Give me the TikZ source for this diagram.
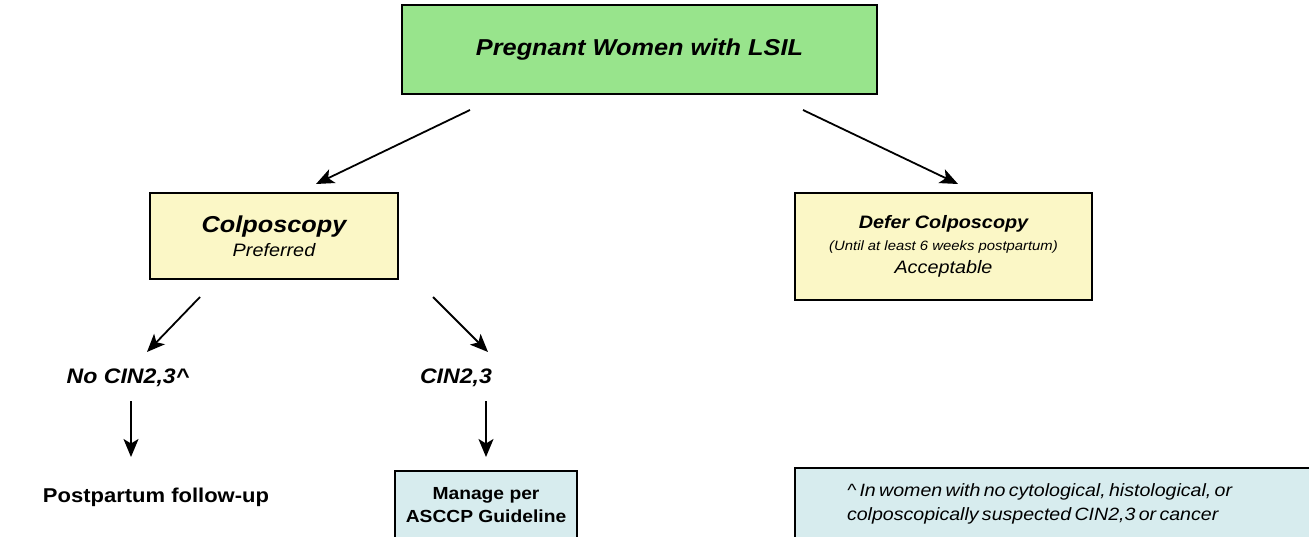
\documentclass[tikz,border=0pt]{standalone}
\usepackage{fontspec}
\setmainfont{Liberation Sans}[FakeStretch=1.1]
\usetikzlibrary{arrows.meta}
\definecolor{boxgreen}{HTML}{98E48C}
\definecolor{boxyellow}{HTML}{FBF7C6}
\definecolor{boxblue}{HTML}{D7ECEE}
\newcommand{\fs}[1]{\fontsize{#1}{#1}\selectfont}
\tikzset{
  box/.style={draw=black, line width=1.3pt, inner sep=0pt, align=center},
  lbl/.style={inner sep=0pt, align=center},
  arr/.style={line width=1.8pt, -{Stealth[length=18pt,width=15pt,inset=4.5pt]}},
}
\begin{document}
\begin{tikzpicture}[x=1pt,y=-1pt]
\clip (0,0) rectangle (1309,537);
\useasboundingbox (0,0) rectangle (1309,537);
\fill[white] (0,0) rectangle (1309,537);
% boxes
\node[box, fill=boxgreen, minimum width=475pt, minimum height=89pt] (top) at (639.5,49.5)
  {\fs{23}\bfseries\itshape Pregnant Women with LSIL};
\node[box, fill=boxyellow, minimum width=248pt, minimum height=86pt] (colpo) at (274,236)
  {{\fs{23}\bfseries\itshape Colposcopy}\\[5pt]{\fs{18}\itshape Preferred}};
\node[box, fill=boxyellow, minimum width=297pt, minimum height=107pt] (defer) at (943.5,246.5)
  {{\fs{18}\bfseries\itshape Defer Colposcopy}\\[7pt]{\fs{13.5}\itshape (Until at least 6 weeks postpartum)}\\[6pt]{\fs{18}\itshape Acceptable}};
\node[lbl] (nocin) at (128,378) {\fs{21}\bfseries\itshape No CIN2,3\^{}};
\node[lbl] (cin) at (456,378) {\fs{21}\bfseries\itshape CIN2,3};
\node[lbl] (post) at (156,497) {\fs{20}\bfseries Postpartum follow-up};
\node[box, fill=boxblue, minimum width=182pt, minimum height=68pt] (manage) at (486,505)
  {\fs{17.5}\bfseries Manage per\\[6pt]\fs{17.5}\bfseries ASCCP Guideline};
\node[box, fill=boxblue, minimum width=530pt, minimum height=72pt, align=left, text width=426pt, inner xsep=52pt] (note) at (1060,504)
  {\fs{17.8}\itshape \^{} In women with no cytological, histological, or\\[7pt]\fs{17.8}\itshape colposcopically suspected CIN2,3 or cancer};
% connector endpoints
\coordinate (a1s) at (470,110); \coordinate (a1e) at (316,184);
\coordinate (a2s) at (803,110); \coordinate (a2e) at (958,184);
\coordinate (b1s) at (200,297); \coordinate (b1e) at (147,352);
\coordinate (b2s) at (433,297); \coordinate (b2e) at (488,352);
\coordinate (c1s) at (131,401); \coordinate (c1e) at (131,457);
\coordinate (c2s) at (486,401); \coordinate (c2e) at (486,457);
\draw[arr] (a1s) -- (a1e);
\draw[arr] (a2s) -- (a2e);
\draw[arr] (b1s) -- (b1e);
\draw[arr] (b2s) -- (b2e);
\draw[arr] (c1s) -- (c1e);
\draw[arr] (c2s) -- (c2e);
\end{tikzpicture}
\end{document}
